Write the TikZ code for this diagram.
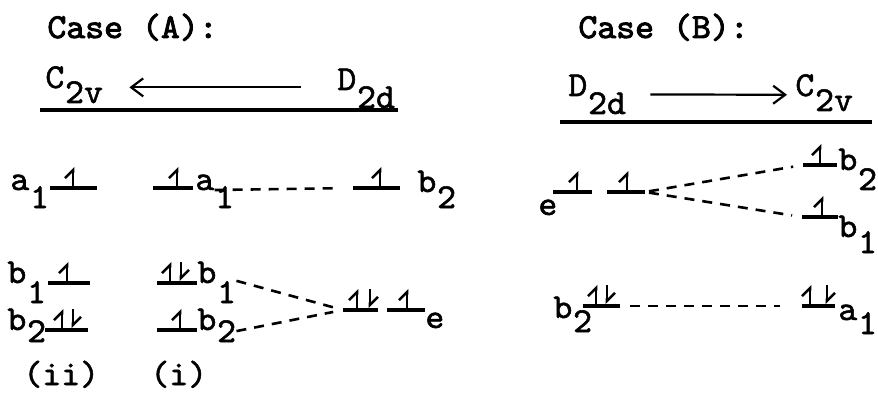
\documentclass[tikz,border=0pt]{standalone}
\usepackage{fontspec}
\newfontfamily\twfont{lmmono10-regular.otf}[FakeStretch=1.03,FakeBold=1.5]
\newfontfamily\tbfont{lmmono10-regular.otf}[FakeStretch=1.03,FakeBold=2.6]
\usetikzlibrary{arrows.meta,positioning}
\newcommand{\tw}{\twfont\fontsize{17.5}{20}\selectfont}
\newcommand{\tb}{\tbfont\fontsize{17.5}{20}\selectfont}

\begin{document}
\begin{tikzpicture}[x=0.5pt,y=-0.5pt,
  txt/.style={font=\tw,inner sep=0pt,anchor=base west},
  ttl/.style={txt,font=\tb},
  sub/.style={txt,yshift=-#1},
  sub/.default=9pt,
  bar/.style={line width=1.6pt},
  rule/.style={line width=1.7pt},
  hdarrow/.style={line width=1.1pt,-{Straight Barb[length=6pt,width=9pt,line width=1.1pt]}},
  spin/.style={line width=1.3pt,-{Straight Barb[left,length=4pt,width=8pt,line width=1.3pt]}},
  link/.style={line width=1.3pt,dash pattern=on 5pt off 4pt}
]
\useasboundingbox (0,0) rectangle (878,401);

% Case (A)
\node[ttl] (capA) at (47,38) {Case (A):};
\node[txt] (cA) at (45,88) {C};
\node[sub=7.5pt] (cAs) at (cA.base east) {2v};
\node[txt] (dA) at (337,90) {D};
\node[sub=9pt] (dAs) at (dA.base east) {2d};
\draw[hdarrow,shorten <=18pt,shorten >=13pt] ([yshift=1.5pt]dA.south west) -- ([yshift=1.5pt]dA.south west -| cAs.east);
\draw[rule] (40,110) -- (398,110);

% a1 row
\node[txt] (a1ii) at (10,190) {a};
\node[sub] (a1iis) at (a1ii.base east) {1};
\draw[bar] (50,188) -- (97,188);
\node[txt] (a1i) at (195,190) {a};
\node[sub] (a1is) at (a1i.base east) {1};
\draw[bar] (153,188) -- (193,188);
\draw[bar] (353,188) coordinate (b2Dw) -- (400,188);
\node[txt] (b2D) at (417,192) {b};
\node[sub=8pt] (b2Ds) at (b2D.base east) {2};
\draw[link,shorten >=10pt] (a1i.base east) -- (b2Dw);

% b1, b2 rows
\node[txt] (b1ii) at (7,283) {b};
\node[sub=10pt] (b1iis) at (b1ii.base east) {1};
\draw[bar] (48,283) -- (90,283);
\node[txt] (b2ii) at (7,330) {b};
\node[sub=6pt] (b2iis) at (b2ii.base east) {2};
\draw[bar] (45,330) -- (88,330);
\node[txt] (b1i) at (197,283) {b};
\node[sub=10pt] (b1is) at (b1i.base east) {1};
\draw[bar] (157,283) -- (197,283);
\node[txt] (b2i) at (197,330) {b};
\node[sub=6pt] (b2is) at (b2i.base east) {2};
\draw[bar] (157,330) -- (197,330);

% e of D2d
\draw[bar] (343,310) coordinate (eDw) -- (378,310);
\draw[bar] (387,310) -- (425,310);
\node[txt] (eD) at (425,328) {e};
\draw[link,shorten >=5pt] (b1is.north east) -- (eDw);
\draw[link,shorten >=5pt] (b2is.east) -- (eDw);

\node[txt] (ii) at (23,385) {(ii)};
\node[txt] (i) at (150,385) {(i)};

% Case (B)
\node[ttl] (capB) at (578,38) {Case (B):};
\node[txt] (dB) at (568,96) {D};
\node[sub=9pt] (dBs) at (dB.base east) {2d};
\node[txt] (cB) at (795,96) {C};
\node[sub=7.5pt] (cBs) at (cB.base east) {2v};
\draw[hdarrow,shorten <=12pt,shorten >=4pt] ([yshift=1pt]dBs.east |- dB.south) -- ([yshift=1pt]cB.south west);
\draw[rule] (560,122) -- (872,122);

% e splitting
\node[txt] (eB) at (538,215) {e};
\draw[bar] (553,192) -- (592,192);
\draw[bar] (607,192) -- (645,192) coordinate (eBe);
\draw[bar] (803,165) coordinate (b2Bw) -- (837,165);
\node[txt] (b2B) at (838,170) {b};
\node[sub=10pt] (b2Bs) at (b2B.base east) {2};
\draw[bar] (802,217) coordinate (b1Bw) -- (838,217);
\node[txt] (b1B) at (838,237) {b};
\node[sub=8pt] (b1Bs) at (b1B.base east) {1};
\draw[link,shorten <=2pt,shorten >=5pt] (eBe) -- (b2Bw);
\draw[link,shorten <=2pt,shorten >=5pt] (eBe) -- (b1Bw);

% b2 -> a1
\node[txt] (b2Bl) at (553,318) {b};
\node[sub=7pt] (b2Bls) at (b2Bl.base east) {2};
\draw[bar] (583,306) -- (620,306) coordinate (b2Be);
\draw[bar] (802,306) coordinate (a1Bw) -- (835,306);
\node[txt] (a1B) at (838,320) {a};
\node[sub=7pt] (a1Bs) at (a1B.base east) {1};
\draw[link,shorten <=5pt,shorten >=11pt] (b2Be) -- (a1Bw);

% spins
\foreach \x/\y in {73/188,177/188,380/188,67/283,62/330,170/283,180/330,357/310,407/310,
                   577/192,627/192,820/165,822/217,596/306,810/306}
  \draw[spin] (\x,\y-2) -- ++(0,-19);
\foreach \x/\y in {73/330,181/283,370/310,607/306,827/306}
  \draw[spin] (\x,\y-21) -- ++(0,19);

\end{tikzpicture}
\end{document}
